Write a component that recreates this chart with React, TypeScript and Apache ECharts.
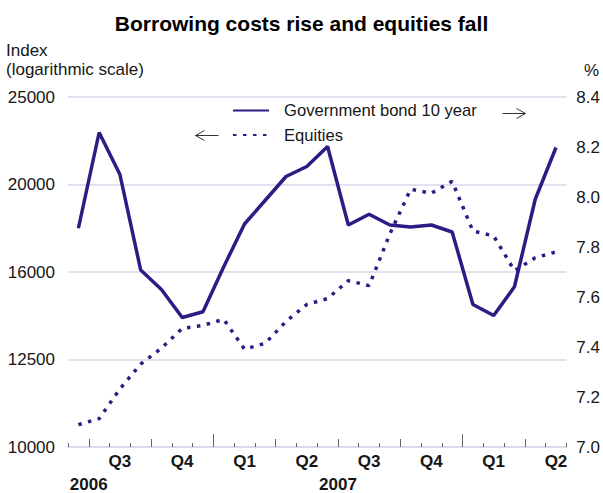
import React, { useEffect, useRef } from "react";
import * as echarts from "echarts";

// Monthly observations, June 2006 .. May 2008 (plotted mid-month)
const months = [
  "Jun", "Jul", "Aug", "Sep", "Oct", "Nov", "Dec",
  "Jan", "Feb", "Mar", "Apr", "May", "Jun", "Jul", "Aug", "Sep", "Oct", "Nov", "Dec",
  "Jan", "Feb", "Mar", "Apr", "May",
];

// Government bond 10 year, % (right axis)
const bondYield = [
  7.875, 8.258, 8.09, 7.708, 7.63, 7.518, 7.541,
  7.721, 7.892, 7.987, 8.082, 8.122, 8.202, 7.888, 7.931, 7.888, 7.88, 7.888, 7.86,
  7.57, 7.526, 7.641, 7.991, 8.198,
];

// Equities, index (left axis, logarithmic)
const equities = [
  10586, 10749, 11597, 12355, 12865, 13534, 13637,
  13848, 12833, 13029, 13777, 14382, 14602, 15284, 15091, 17217, 19296, 19101, 19689,
  17348, 17129, 15677, 16201, 16448,
];

const leftTickLabels = ["10000", "12500", "16000", "20000", "25000"];
const quarterLabels = ["Q3", "Q4", "Q1", "Q2", "Q3", "Q4", "Q1", "Q2"];
const yearLabels = ["2006", "2007"];

const LOG_BASE = 1.25;
const LOG_ORIGIN = 10000;
const toLog = (v: number) => Math.log(v / LOG_ORIGIN) / Math.log(LOG_BASE);

const FONT = "'Liberation Sans', Arial, Helvetica, sans-serif";
const LINE_COLOR = "#2b1d84";
const GRID_COLOR = "#d9d7ea";
const TEXT = "#161616";
const FS = 17;

export default function App() {
  const ref = useRef<HTMLDivElement>(null);

  useEffect(() => {
    document.body.style.margin = "0";
    if (!ref.current) return;
    const chart = echarts.init(ref.current, undefined, { renderer: "svg" });

    const n = months.length;
    const monthTicks = Array.from({ length: n + 1 }, (_, i) => i);
    // Quarter boundaries: July 2006 is month index 1
    const quarterStarts = monthTicks.filter((i) => i % 3 === 1);
    const quarterCenters = quarterLabels.map((_, k) => 1 + 3 * k + 1.5);
    const yearStarts = monthTicks.filter((i) => months[i] === "Jan");
    const yearLabelPos = yearLabels.map((_, k) => 1 + 12 * k);

    const baseX = {
      type: "value",
      min: 0,
      max: n,
      position: "bottom",
      splitLine: { show: false },
    };

    chart.setOption({
      animation: false,
      textStyle: { fontFamily: FONT },
      title: {
        text: "Borrowing costs rise and equities fall",
        left: "center",
        top: 8,
        textStyle: { fontFamily: FONT, fontSize: 21, fontWeight: "bold", color: "#000" },
      },
      grid: { left: 68, right: 36, top: 97, bottom: 43 },
      legend: {
        orient: "vertical",
        left: 227,
        top: 97,
        itemWidth: 36,
        itemHeight: 14,
        itemGap: 7.5,
        itemStyle: { opacity: 0 },
        textStyle: { fontFamily: FONT, fontSize: 16.6, color: TEXT, padding: [0, 0, 0, 10] },
        data: ["Government bond 10 year", "Equities"],
      },
      xAxis: [
        {
          ...baseX,
          axisLine: { show: true, onZero: false, lineStyle: { color: GRID_COLOR, width: 1.5 } },
          axisTick: {
            show: true,
            inside: true,
            length: 4,
            customValues: monthTicks,
            lineStyle: { color: "#666", width: 1 },
          },
          axisLabel: {
            show: true,
            customValues: quarterCenters,
            formatter: (v: number) => quarterLabels[Math.round((v - 2.5) / 3)] ?? "",
            margin: 6,
            fontFamily: FONT,
            fontSize: FS,
            fontWeight: "bold",
            color: TEXT,
          },
        },
        {
          ...baseX,
          axisLine: { show: false, onZero: false },
          axisTick: {
            show: true,
            inside: true,
            length: 8,
            customValues: quarterStarts,
            lineStyle: { color: "#666", width: 1 },
          },
          axisLabel: { show: false },
        },
        {
          ...baseX,
          axisLine: { show: false, onZero: false },
          axisTick: {
            show: true,
            inside: true,
            length: 13,
            customValues: yearStarts,
            lineStyle: { color: "#666", width: 1 },
          },
          axisLabel: {
            show: true,
            customValues: yearLabelPos,
            formatter: (v: number) => yearLabels[Math.round((v - 1) / 12)] ?? "",
            margin: 29,
            fontFamily: FONT,
            fontSize: FS,
            fontWeight: "bold",
            color: TEXT,
          },
        },
      ],
      yAxis: [
        {
          type: "value",
          position: "left",
          min: 0,
          max: leftTickLabels.length - 1,
          interval: 1,
          axisLine: { show: false },
          axisTick: { show: false },
          splitLine: { show: true, lineStyle: { color: GRID_COLOR, width: 1.5 } },
          axisLabel: {
            formatter: (v: number) => leftTickLabels[Math.round(v)] ?? "",
            margin: 13,
            fontFamily: FONT,
            fontSize: FS,
            color: TEXT,
          },
        },
        {
          type: "value",
          position: "right",
          min: 7.0,
          max: 8.4,
          interval: 0.2,
          axisLine: { show: false },
          axisTick: { show: false },
          splitLine: { show: false },
          axisLabel: {
            formatter: (v: number) => v.toFixed(1),
            margin: 10,
            fontFamily: FONT,
            fontSize: FS,
            color: TEXT,
          },
        },
      ],
      series: [
        {
          name: "Government bond 10 year",
          type: "line",
          xAxisIndex: 0,
          yAxisIndex: 1,
          symbol: "none",
          data: bondYield.map((v, i) => [i + 0.5, v]),
          lineStyle: { color: LINE_COLOR, width: 3.5 },
          itemStyle: { color: LINE_COLOR },
        },
        {
          name: "Equities",
          type: "line",
          xAxisIndex: 0,
          yAxisIndex: 0,
          symbol: "none",
          data: equities.map((v, i) => [i + 0.5, toLog(v)]),
          lineStyle: { color: LINE_COLOR, width: 3.5, type: [3.5, 6.5], cap: "butt" },
          itemStyle: { color: LINE_COLOR },
        },
      ],
      graphic: [
        {
          type: "text",
          left: 6,
          top: 42,
          style: {
            text: "Index",
            font: `17px ${FONT}`,
            fill: TEXT,
          },
        },
        {
          type: "text",
          left: 6,
          top: 61,
          style: {
            text: "(logarithmic scale)",
            font: `17px ${FONT}`,
            fill: TEXT,
          },
        },
        {
          type: "text",
          left: 584,
          top: 62,
          style: { text: "%", font: `${FS}px ${FONT}`, fill: TEXT },
        },
        {
          type: "group",
          left: 500,
          top: 106,
          children: [
            { type: "line", shape: { x1: 0, y1: 5, x2: 23, y2: 5 }, style: { stroke: "#333", lineWidth: 1 } },
            { type: "polyline", shape: { points: [[14, 0], [23, 5], [14, 10]] }, style: { stroke: "#333", lineWidth: 1, fill: null } },
          ],
        },
        {
          type: "group",
          left: 193,
          top: 128,
          children: [
            { type: "line", shape: { x1: 0, y1: 5, x2: 23, y2: 5 }, style: { stroke: "#333", lineWidth: 1 } },
            { type: "polyline", shape: { points: [[9, 0], [0, 5], [9, 10]] }, style: { stroke: "#333", lineWidth: 1, fill: null } },
          ],
        },
      ],
    });

    return () => chart.dispose();
  }, []);

  return <div ref={ref} style={{ width: 603, height: 493 }} />;
}
